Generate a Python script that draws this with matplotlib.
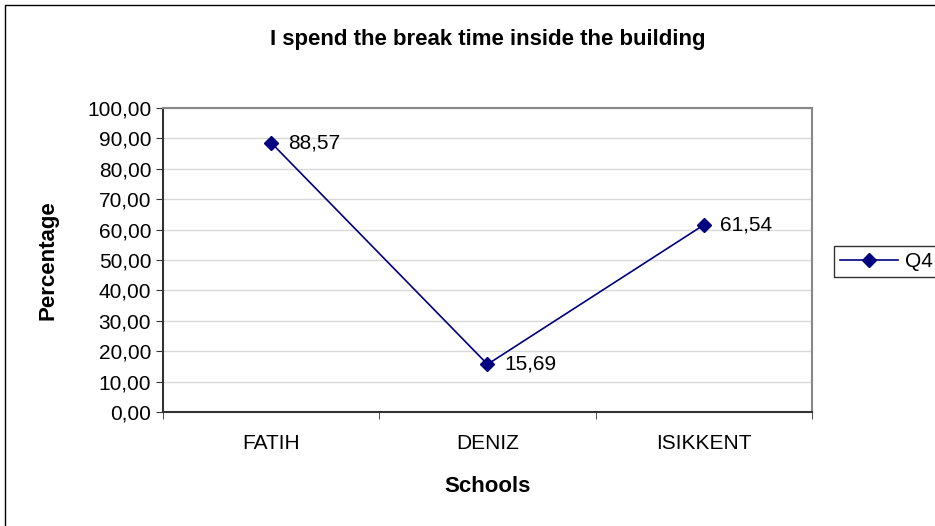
import matplotlib.pyplot as plt
from matplotlib.ticker import FuncFormatter
from matplotlib.patches import Rectangle

plt.rcParams['font.family'] = ['Liberation Sans', 'DejaVu Sans']

schools = ['FATIH', 'DENIZ', 'ISIKKENT']
q4 = [88.57, 15.69, 61.54]
yticks = [0, 10, 20, 30, 40, 50, 60, 70, 80, 90, 100]

fig = plt.figure(figsize=(9.35, 5.26), dpi=100)
# outer chart frame
fig.patches.append(Rectangle((5 / 935, -0.01), 1.0, 1 - 5 / 526 + 0.01,
                             transform=fig.transFigure, fill=False,
                             edgecolor='black', linewidth=1))

ax = fig.add_axes([163 / 935, 1 - 412 / 526, 649 / 935, 304 / 526])

x = list(range(len(schools)))
ax.plot(x, q4, color='#000080', linewidth=1.2, marker='D', markersize=7,
        markerfacecolor='#000080', markeredgecolor='#000080', label='Q4')
for xi, v in zip(x, q4):
    ax.annotate(f'{v:.2f}'.replace('.', ','), (xi, v), xytext=(12, 0),
                textcoords='offset points', va='center', ha='left', fontsize=15)

ax.set_xlim(-0.5, len(schools) - 0.5)
ax.set_ylim(0, 100)
ax.set_yticks(yticks)
ax.yaxis.set_major_formatter(FuncFormatter(lambda v, p: f'{v:.2f}'.replace('.', ',')))
ax.set_xticks(x)
ax.set_xticklabels(schools)
ax.set_xticks([i - 0.5 for i in range(len(schools) + 1)], minor=True)
ax.tick_params(axis='x', which='major', length=0, pad=16, labelsize=15)
ax.tick_params(axis='x', which='minor', length=5, direction='out', color='#333333')
ax.tick_params(axis='y', length=5, direction='out', labelsize=15, color='#333333')

ax.grid(axis='y', color='#d9d9d9', linewidth=1)
ax.set_axisbelow(True)
for side in ['top', 'right']:
    ax.spines[side].set_color('#888888')
    ax.spines[side].set_linewidth(1.5)
for side in ['left', 'bottom']:
    ax.spines[side].set_color('#333333')
    ax.spines[side].set_linewidth(1.5)

fig.text((163 + 812) / 2 / 935, 1 - 40 / 526,
         'I spend the break time inside the building',
         fontsize=16, fontweight='bold', ha='center', va='center')
fig.text((163 + 812) / 2 / 935, 1 - 487 / 526, 'Schools',
         fontsize=16, fontweight='bold', ha='center', va='center')
ax.set_ylabel('Percentage', fontsize=16, fontweight='bold', va='center')
ax.yaxis.set_label_coords(-0.177, 0.5)

leg = ax.legend(loc='center left', bbox_to_anchor=(1.034, 0.495), fontsize=15,
                frameon=True, fancybox=False, edgecolor='black',
                handlelength=2.75, borderpad=0.3, handletextpad=0.35,
                borderaxespad=0)
leg.get_frame().set_linewidth(1)

fig.savefig('out.png', dpi=100)
